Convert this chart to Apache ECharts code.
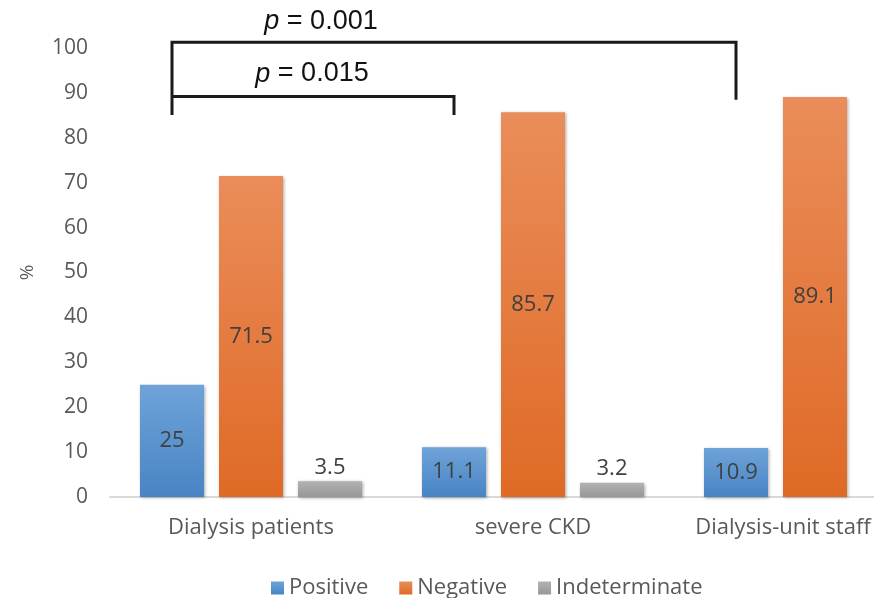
<!DOCTYPE html>
<html>
<head>
<meta charset="utf-8">
<script src="https://cdn.jsdelivr.net/npm/echarts@6/dist/echarts.min.js"></script>
<style>
html,body{margin:0;padding:0;background:#fff;}
#c{width:874px;height:598px;}
</style>
</head>
<body>
<div id="c"></div>
<script>
const categories = ['Dialysis patients', 'severe CKD', 'Dialysis-unit staff'];
const positive = [25, 11.1, 10.9];
const negative = [71.5, 85.7, 89.1];
const indeterminate = [3.5, 3.2, null];
const seriesNames = ['Positive', 'Negative', 'Indeterminate'];
const yTicks = {min: 0, max: 100, interval: 10};
const pOuter = '0.001';
const pInner = '0.015';

const FONT = 'Open Sans';
const BAR_W = 64, BAR_GAP = 15;

function grad(top, bottom) {
  return new echarts.graphic.LinearGradient(0, 0, 0, 1, [
    {offset: 0, color: top}, {offset: 1, color: bottom}
  ]);
}
const shadow = {shadowBlur: 3, shadowColor: 'rgba(0,0,0,0.35)', shadowOffsetX: 1, shadowOffsetY: 1};
const labelInside = {show: true, position: 'inside', color: '#404040', fontSize: 22, fontFamily: FONT};

const chart = echarts.init(document.getElementById('c'), null, {renderer: 'canvas'});

function pText(x, y, val) {
  return {type: 'text', x: x, y: y, style: {
    text: '{i|p}{n| = ' + val + '}', align: 'center', verticalAlign: 'middle',
    rich: {
      i: {fontStyle: 'italic', fontSize: 27, fontFamily: 'Liberation Sans', fill: '#111'},
      n: {fontSize: 27, fontFamily: 'Liberation Sans', fill: '#111'}
    }
  }};
}

function bracketRender(params, api) {
  const off = -(BAR_W + BAR_GAP); // blue bar centre relative to category centre
  const x0 = api.coord([0, 0])[0] + off;
  const x1 = api.coord([1, 0])[0] + off;
  const x2 = api.coord([2, 0])[0] + off;
  const y = v => api.coord([0, v])[1];
  const ls = {stroke: '#1a1a1a', lineWidth: 3, fill: null};
  return {
    type: 'group',
    children: [
      {type: 'polyline', shape: {points: [[x0, y(85.1)], [x0, y(101.3)], [x2, y(101.3)], [x2, y(88.5)]]}, style: ls},
      {type: 'polyline', shape: {points: [[x0, y(89.2)], [x1, y(89.2)], [x1, y(85.1)]]}, style: ls},
      pText(x0 + 149, y(105.8), pOuter),
      pText(x0 + 140, y(94.2), pInner)
    ]
  };
}

chart.setOption({
  animation: false,
  backgroundColor: '#fff',
  textStyle: {fontFamily: FONT},
  grid: {left: 110, width: 846, top: 48, bottom: 101, containLabel: false, outerBoundsMode: 'none'},
  legend: {
    data: seriesNames,
    left: 266, top: 572,
    icon: 'rect', itemWidth: 13, itemHeight: 13, itemGap: 31,
    textStyle: {fontSize: 22, color: '#595959', fontFamily: FONT}
  },
  xAxis: {
    type: 'category',
    data: categories,
    axisLine: {lineStyle: {color: '#d9d9d9', width: 2}},
    axisTick: {show: false},
    axisLabel: {
      interval: 0, fontSize: 22, color: '#595959', margin: 20, fontFamily: FONT,
      formatter: function (v, i) { return i === 2 ? '{s|' + v + '}' : v; },
      rich: {s: {fontSize: 22, color: '#595959', fontFamily: FONT, padding: [0, 64, 0, 0]}}
    }
  },
  yAxis: {
    type: 'value',
    min: yTicks.min, max: yTicks.max, interval: yTicks.interval,
    name: '%', nameLocation: 'middle', nameGap: 73, nameRotate: 90,
    nameTextStyle: {fontSize: 19, color: '#595959', fontFamily: FONT},
    axisLine: {show: false}, axisTick: {show: false},
    splitLine: {show: false},
    axisLabel: {fontSize: 21, color: '#595959', margin: 22, fontFamily: FONT}
  },
  series: [
    {name: seriesNames[0], type: 'bar', data: positive, barWidth: BAR_W, barGap: (BAR_GAP / BAR_W * 100) + '%',
     itemStyle: Object.assign({color: grad('#6fa3d8', '#4884c4')}, shadow), label: labelInside},
    {name: seriesNames[1], type: 'bar', data: negative, barWidth: BAR_W,
     itemStyle: Object.assign({color: grad('#ea8d5a', '#df6a26')}, shadow), label: labelInside},
    {name: seriesNames[2], type: 'bar', data: indeterminate, barWidth: BAR_W,
     itemStyle: Object.assign({color: grad('#b2b2b2', '#979797')}, shadow),
     label: Object.assign({}, labelInside, {position: 'top', distance: 3})},
    {type: 'custom', name: 'brackets', data: [[0, 0]], clip: false, silent: true,
     renderItem: bracketRender, z: 10}
  ]
});
</script>
</body>
</html>
